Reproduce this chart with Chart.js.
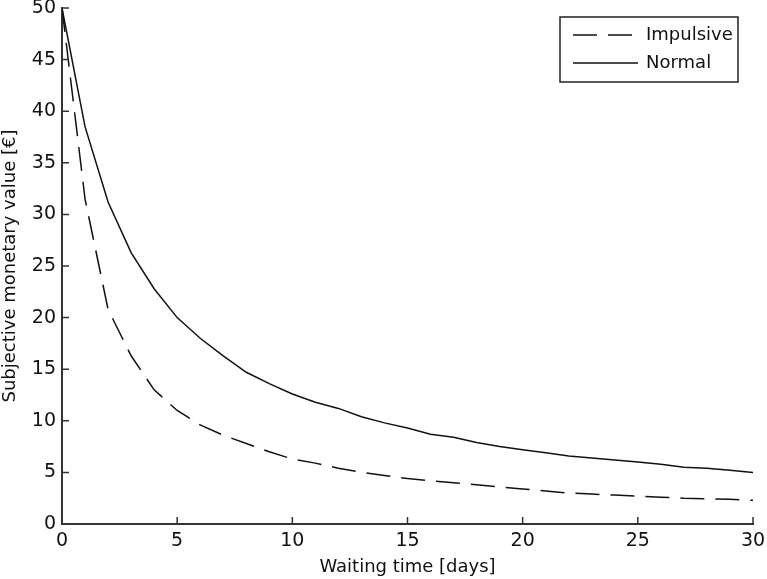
<!DOCTYPE html>
<html>
<head>
<meta charset="utf-8">
<script src="https://cdn.jsdelivr.net/npm/chart.js@4.4.1/dist/chart.umd.min.js"></script>
<style>
    html, body { margin: 0; padding: 0; background: #fff; }
    #wrap { width: 767px; height: 579px; position: relative; }
</style>
</head>
<body>
<div id="wrap"><canvas id="discountChart"></canvas></div>
<script>
// waiting time in days
const days = [0, 1, 2, 3, 4, 5, 6, 7, 8, 9, 10, 11, 12, 13, 14, 15, 16, 17, 18, 19, 20, 21, 22, 23, 24, 25, 26, 27, 28, 29, 30];

// subjective value (€)
const impulsiveValues = [50, 31.5, 20.8, 16.3, 13.0, 11.0, 9.6, 8.6, 7.8, 7.0, 6.3, 5.9, 5.4, 5.0, 4.7, 4.4, 4.2, 4.0, 3.8, 3.6, 3.4, 3.2, 3.0, 2.9, 2.8, 2.7, 2.6, 2.5, 2.45, 2.4, 2.3];
const normalValues = [50, 38.5, 31.2, 26.3, 22.8, 20.0, 18.0, 16.3, 14.7, 13.6, 12.6, 11.8, 11.2, 10.4, 9.8, 9.3, 8.7, 8.4, 7.9, 7.5, 7.2, 6.9, 6.6, 6.4, 6.2, 6.0, 5.8, 5.5, 5.4, 5.2, 5.0];

const seriesNames = ['Impulsive', 'Normal'];
const xTicks = [0, 5, 10, 15, 20, 25, 30];
const yTicks = [0, 5, 10, 15, 20, 25, 30, 35, 40, 45, 50];

const FONT = "'DejaVu Sans', sans-serif";
const INK = '#111';

function toPoints(values) {
    return days.map((d, i) => ({ x: d, y: values[i] }));
}

// ticks drawn inward like the original
const innerTicks = {
    id: 'innerTicks',
    afterDraw(chart) {
        const ctx = chart.ctx;
        const xs = chart.scales.x;
        const ys = chart.scales.y;
        const len = 7;
        ctx.save();
        ctx.strokeStyle = '#333';
        ctx.lineWidth = 1.5;
        ctx.beginPath();
        xTicks.forEach(v => {
            if (v === xs.min) return;
            const px = xs.getPixelForValue(v);
            ctx.moveTo(px, ys.bottom);
            ctx.lineTo(px, ys.bottom - len);
        });
        yTicks.forEach(v => {
            if (v === ys.min) return;
            const py = ys.getPixelForValue(v);
            ctx.moveTo(xs.left, py);
            ctx.lineTo(xs.left + len, py);
        });
        ctx.stroke();
        ctx.restore();
    }
};

// boxed legend in the upper right corner
const boxLegend = {
    id: 'boxLegend',
    afterDraw(chart) {
        const ctx = chart.ctx;
        const area = chart.chartArea;
        const w = 178, h = 65;
        const x0 = area.right - 15 - w;
        const y0 = area.top + 9;
        ctx.save();
        ctx.fillStyle = '#fff';
        ctx.fillRect(x0, y0, w, h);
        ctx.strokeStyle = '#222';
        ctx.lineWidth = 1.5;
        ctx.strokeRect(x0, y0, w, h);
        ctx.font = '18px ' + FONT;
        ctx.textBaseline = 'middle';
        chart.data.datasets.forEach((ds, i) => {
            const cy = y0 + 18 + i * 28;
            ctx.strokeStyle = INK;
            ctx.lineWidth = 1.5;
            ctx.setLineDash(ds.borderDash || []);
            ctx.beginPath();
            ctx.moveTo(x0 + 13, cy);
            ctx.lineTo(x0 + 78, cy);
            ctx.stroke();
            ctx.setLineDash([]);
            ctx.fillStyle = INK;
            ctx.fillText(ds.label, x0 + 86, cy);
        });
        ctx.restore();
    }
};

function initChart() {
    const ctx = document.getElementById('discountChart');
    new Chart(ctx, {
        type: 'line',
        data: {
            datasets: [
                {
                    label: seriesNames[0],
                    data: toPoints(impulsiveValues),
                    borderColor: INK,
                    borderWidth: 1.5,
                    borderDash: [24, 11],
                    pointRadius: 0,
                    tension: 0
                },
                {
                    label: seriesNames[1],
                    data: toPoints(normalValues),
                    borderColor: INK,
                    borderWidth: 1.5,
                    pointRadius: 0,
                    tension: 0
                }
            ]
        },
        options: {
            responsive: true,
            maintainAspectRatio: false,
            animation: false,
            layout: { padding: { top: 8, right: 14, left: 0, bottom: 0 } },
            plugins: {
                legend: { display: false },
                tooltip: { enabled: false }
            },
            scales: {
                x: {
                    type: 'linear',
                    min: 0,
                    max: 30,
                    afterBuildTicks: s => { s.ticks = xTicks.map(v => ({ value: v })); },
                    afterFit: s => { s.height = 55; s.paddingLeft = 0; s.paddingRight = 0; },
                    grid: { drawOnChartArea: false, drawTicks: false },
                    border: { color: '#333', width: 2 },
                    ticks: { color: INK, padding: 6, font: { family: FONT, size: 19 } },
                    title: {
                        display: true,
                        text: 'Waiting time [days]',
                        color: INK,
                        padding: { top: 0, bottom: 1 },
                        font: { family: FONT, size: 18 }
                    }
                },
                y: {
                    min: 0,
                    max: 50,
                    afterBuildTicks: s => { s.ticks = yTicks.map(v => ({ value: v })); },
                    afterFit: s => { s.width = 62; s.paddingTop = 0; s.paddingBottom = 0; },
                    grid: { drawOnChartArea: false, drawTicks: false },
                    border: { color: '#333', width: 2 },
                    ticks: { color: INK, padding: 6, font: { family: FONT, size: 19 } },
                    title: {
                        display: true,
                        text: 'Subjective monetary value [€]',
                        color: INK,
                        padding: { top: 0, bottom: 0 },
                        font: { family: FONT, size: 18 }
                    }
                }
            }
        },
        plugins: [innerTicks, boxLegend]
    });
}

document.addEventListener('DOMContentLoaded', initChart);
</script>
</body>
</html>
